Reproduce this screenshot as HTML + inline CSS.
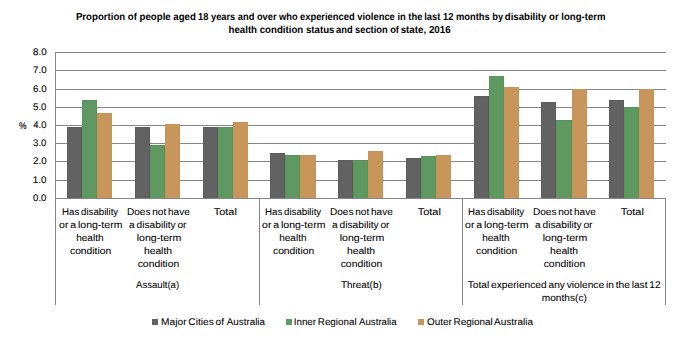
<!DOCTYPE html><html><head><meta charset="utf-8"><style>html,body{margin:0;padding:0;background:#fff;}svg{display:block;}text{font-family:"Liberation Sans",sans-serif;fill:#000;stroke:#000;word-spacing:-1px;text-rendering:geometricPrecision;}</style></head><body>
<svg width="681" height="340" viewBox="0 0 681 340" shape-rendering="crispEdges">
<rect x="0" y="0" width="681" height="340" fill="#fff"/>
<rect x="55" y="52" width="611" height="1" fill="#868686"/>
<rect x="55" y="70" width="611" height="1" fill="#868686"/>
<rect x="55" y="89" width="611" height="1" fill="#868686"/>
<rect x="55" y="107" width="611" height="1" fill="#868686"/>
<rect x="55" y="125" width="611" height="1" fill="#868686"/>
<rect x="55" y="143" width="611" height="1" fill="#868686"/>
<rect x="55" y="161" width="611" height="1" fill="#868686"/>
<rect x="55" y="180" width="611" height="1" fill="#868686"/>
<rect x="67" y="127" width="15" height="71" fill="#5b5b5b"/>
<rect x="68" y="128" width="13" height="70" fill="#626262"/>
<rect x="82" y="100" width="15" height="98" fill="#559657"/>
<rect x="83" y="101" width="13" height="97" fill="#5f9860"/>
<rect x="97" y="113" width="15" height="85" fill="#c79255"/>
<rect x="98" y="114" width="13" height="84" fill="#c8965b"/>
<rect x="135" y="127" width="15" height="71" fill="#5b5b5b"/>
<rect x="136" y="128" width="13" height="70" fill="#626262"/>
<rect x="150" y="145" width="15" height="53" fill="#559657"/>
<rect x="151" y="146" width="13" height="52" fill="#5f9860"/>
<rect x="165" y="124" width="15" height="74" fill="#c79255"/>
<rect x="166" y="125" width="13" height="73" fill="#c8965b"/>
<rect x="203" y="127" width="15" height="71" fill="#5b5b5b"/>
<rect x="204" y="128" width="13" height="70" fill="#626262"/>
<rect x="218" y="127" width="15" height="71" fill="#559657"/>
<rect x="219" y="128" width="13" height="70" fill="#5f9860"/>
<rect x="233" y="122" width="15" height="76" fill="#c79255"/>
<rect x="234" y="123" width="13" height="75" fill="#c8965b"/>
<rect x="270" y="153" width="15" height="45" fill="#5b5b5b"/>
<rect x="271" y="154" width="13" height="44" fill="#626262"/>
<rect x="285" y="155" width="15" height="43" fill="#559657"/>
<rect x="286" y="156" width="13" height="42" fill="#5f9860"/>
<rect x="300" y="155" width="16" height="43" fill="#c79255"/>
<rect x="301" y="156" width="14" height="42" fill="#c8965b"/>
<rect x="338" y="160" width="15" height="38" fill="#5b5b5b"/>
<rect x="339" y="161" width="13" height="37" fill="#626262"/>
<rect x="353" y="160" width="15" height="38" fill="#559657"/>
<rect x="354" y="161" width="13" height="37" fill="#5f9860"/>
<rect x="368" y="151" width="15" height="47" fill="#c79255"/>
<rect x="369" y="152" width="13" height="46" fill="#c8965b"/>
<rect x="406" y="158" width="15" height="40" fill="#5b5b5b"/>
<rect x="407" y="159" width="13" height="39" fill="#626262"/>
<rect x="421" y="156" width="15" height="42" fill="#559657"/>
<rect x="422" y="157" width="13" height="41" fill="#5f9860"/>
<rect x="436" y="155" width="15" height="43" fill="#c79255"/>
<rect x="437" y="156" width="13" height="42" fill="#c8965b"/>
<rect x="474" y="96" width="15" height="102" fill="#5b5b5b"/>
<rect x="475" y="97" width="13" height="101" fill="#626262"/>
<rect x="489" y="76" width="15" height="122" fill="#559657"/>
<rect x="490" y="77" width="13" height="121" fill="#5f9860"/>
<rect x="504" y="87" width="15" height="111" fill="#c79255"/>
<rect x="505" y="88" width="13" height="110" fill="#c8965b"/>
<rect x="541" y="102" width="15" height="96" fill="#5b5b5b"/>
<rect x="542" y="103" width="13" height="95" fill="#626262"/>
<rect x="556" y="120" width="16" height="78" fill="#559657"/>
<rect x="557" y="121" width="14" height="77" fill="#5f9860"/>
<rect x="572" y="89" width="15" height="109" fill="#c79255"/>
<rect x="573" y="90" width="13" height="108" fill="#c8965b"/>
<rect x="609" y="100" width="15" height="98" fill="#5b5b5b"/>
<rect x="610" y="101" width="13" height="97" fill="#626262"/>
<rect x="624" y="107" width="15" height="91" fill="#559657"/>
<rect x="625" y="108" width="13" height="90" fill="#5f9860"/>
<rect x="639" y="89" width="15" height="109" fill="#c79255"/>
<rect x="640" y="90" width="13" height="108" fill="#c8965b"/>
<rect x="55" y="198" width="611" height="1" fill="#868686"/>
<rect x="55" y="52" width="1" height="253" fill="#868686"/>
<rect x="259" y="198" width="1" height="107" fill="#868686"/>
<rect x="462" y="198" width="1" height="107" fill="#868686"/>
<rect x="665" y="198" width="1" height="107" fill="#868686"/>
<rect x="152" y="319" width="6" height="6" fill="#626262"/>
<rect x="286" y="319" width="6" height="6" fill="#5f9860"/>
<rect x="418" y="319" width="6" height="6" fill="#c8965b"/>
<text id="t0" x="75.95" y="20" font-size="10.2" font-weight="bold" stroke-width="0" style="word-spacing:0px" textLength="119.90" lengthAdjust="spacingAndGlyphs">Proportion of people aged</text>
<text id="t1" x="198.10" y="20" font-size="10.2" font-weight="bold" stroke-width="0" style="word-spacing:0px" textLength="99.55" lengthAdjust="spacingAndGlyphs">18 years and over who</text>
<text id="t2" x="300.00" y="20" font-size="10.2" font-weight="bold" stroke-width="0" style="word-spacing:0px" textLength="122.40" lengthAdjust="spacingAndGlyphs">experienced violence in the</text>
<text id="t3" x="424.25" y="20" font-size="10.2" font-weight="bold" stroke-width="0" style="word-spacing:0px" textLength="78.95" lengthAdjust="spacingAndGlyphs">last 12 months by</text>
<text id="t4" x="504.85" y="20" font-size="10.2" font-weight="bold" stroke-width="0" style="word-spacing:0px" textLength="100.65" lengthAdjust="spacingAndGlyphs">disability or long-term</text>
<text id="t5" x="228.50" y="33" font-size="10.2" font-weight="bold" stroke-width="0" style="word-spacing:0px" textLength="106.00" lengthAdjust="spacingAndGlyphs">health condition status</text>
<text id="t6" x="336.05" y="33" font-size="10.2" font-weight="bold" stroke-width="0" style="word-spacing:0px" textLength="62.90" lengthAdjust="spacingAndGlyphs">and section of</text>
<text id="t7" x="400.70" y="33" font-size="10.2" font-weight="bold" stroke-width="0" style="word-spacing:0px" textLength="49.95" lengthAdjust="spacingAndGlyphs">state, 2016</text>
<text id="t8" x="33.05" y="55" font-size="9.6" stroke-width="0.1" textLength="13.60" lengthAdjust="spacingAndGlyphs">8.0</text>
<text id="t9" x="33.05" y="73" font-size="9.6" stroke-width="0.1" textLength="13.60" lengthAdjust="spacingAndGlyphs">7.0</text>
<text id="t10" x="33.05" y="92" font-size="9.6" stroke-width="0.1" textLength="13.60" lengthAdjust="spacingAndGlyphs">6.0</text>
<text id="t11" x="33.05" y="110" font-size="9.6" stroke-width="0.1" textLength="13.35" lengthAdjust="spacingAndGlyphs">5.0</text>
<text id="t12" x="33.30" y="128" font-size="9.6" stroke-width="0.1" textLength="13.10" lengthAdjust="spacingAndGlyphs">4.0</text>
<text id="t13" x="33.05" y="146" font-size="9.6" stroke-width="0.1" textLength="13.35" lengthAdjust="spacingAndGlyphs">3.0</text>
<text id="t14" x="33.05" y="164" font-size="9.6" stroke-width="0.1" textLength="13.60" lengthAdjust="spacingAndGlyphs">2.0</text>
<text id="t15" x="32.80" y="183" font-size="9.6" stroke-width="0.1" textLength="13.60" lengthAdjust="spacingAndGlyphs">1.0</text>
<text id="t16" x="33.05" y="201" font-size="9.6" stroke-width="0.1" textLength="13.35" lengthAdjust="spacingAndGlyphs">0.0</text>
<text id="t17" x="19.10" y="129" font-size="9.6" stroke-width="0.15" textLength="7.60" lengthAdjust="spacingAndGlyphs">%</text>
<text id="t18" x="62.05" y="215" font-size="9.8" stroke-width="0.06" textLength="56.15" lengthAdjust="spacingAndGlyphs">Has disability</text>
<text id="t19" x="59.05" y="228" font-size="9.8" stroke-width="0.06" textLength="63.35" lengthAdjust="spacingAndGlyphs">or a long-term</text>
<text id="t20" x="76.25" y="241" font-size="9.8" stroke-width="0.06" textLength="27.25" lengthAdjust="spacingAndGlyphs">health</text>
<text id="t21" x="70.00" y="254" font-size="9.8" stroke-width="0.06" textLength="41.20" lengthAdjust="spacingAndGlyphs">condition</text>
<text id="t22" x="126.95" y="215" font-size="9.8" stroke-width="0.06" textLength="62.85" lengthAdjust="spacingAndGlyphs">Does not have</text>
<text id="t23" x="129.05" y="228" font-size="9.8" stroke-width="0.06" textLength="57.45" lengthAdjust="spacingAndGlyphs">a disability or</text>
<text id="t24" x="136.75" y="241" font-size="9.8" stroke-width="0.06" textLength="44.65" lengthAdjust="spacingAndGlyphs">long-term</text>
<text id="t25" x="143.90" y="254" font-size="9.8" stroke-width="0.06" textLength="28.15" lengthAdjust="spacingAndGlyphs">health</text>
<text id="t26" x="137.70" y="267" font-size="9.8" stroke-width="0.06" textLength="41.50" lengthAdjust="spacingAndGlyphs">condition</text>
<text id="t27" x="213.75" y="215" font-size="9.8" stroke-width="0.06" textLength="23.15" lengthAdjust="spacingAndGlyphs">Total</text>
<text id="t28" x="265.05" y="215" font-size="9.8" stroke-width="0.06" textLength="56.15" lengthAdjust="spacingAndGlyphs">Has disability</text>
<text id="t29" x="262.05" y="228" font-size="9.8" stroke-width="0.06" textLength="63.35" lengthAdjust="spacingAndGlyphs">or a long-term</text>
<text id="t30" x="279.25" y="241" font-size="9.8" stroke-width="0.06" textLength="27.25" lengthAdjust="spacingAndGlyphs">health</text>
<text id="t31" x="273.00" y="254" font-size="9.8" stroke-width="0.06" textLength="41.20" lengthAdjust="spacingAndGlyphs">condition</text>
<text id="t32" x="329.95" y="215" font-size="9.8" stroke-width="0.06" textLength="62.85" lengthAdjust="spacingAndGlyphs">Does not have</text>
<text id="t33" x="332.05" y="228" font-size="9.8" stroke-width="0.06" textLength="57.45" lengthAdjust="spacingAndGlyphs">a disability or</text>
<text id="t34" x="339.75" y="241" font-size="9.8" stroke-width="0.06" textLength="44.65" lengthAdjust="spacingAndGlyphs">long-term</text>
<text id="t35" x="346.90" y="254" font-size="9.8" stroke-width="0.06" textLength="28.15" lengthAdjust="spacingAndGlyphs">health</text>
<text id="t36" x="340.70" y="267" font-size="9.8" stroke-width="0.06" textLength="41.50" lengthAdjust="spacingAndGlyphs">condition</text>
<text id="t37" x="417.75" y="215" font-size="9.8" stroke-width="0.06" textLength="23.15" lengthAdjust="spacingAndGlyphs">Total</text>
<text id="t38" x="468.05" y="215" font-size="9.8" stroke-width="0.06" textLength="56.15" lengthAdjust="spacingAndGlyphs">Has disability</text>
<text id="t39" x="465.05" y="228" font-size="9.8" stroke-width="0.06" textLength="63.35" lengthAdjust="spacingAndGlyphs">or a long-term</text>
<text id="t40" x="482.25" y="241" font-size="9.8" stroke-width="0.06" textLength="27.25" lengthAdjust="spacingAndGlyphs">health</text>
<text id="t41" x="476.00" y="254" font-size="9.8" stroke-width="0.06" textLength="41.20" lengthAdjust="spacingAndGlyphs">condition</text>
<text id="t42" x="532.95" y="215" font-size="9.8" stroke-width="0.06" textLength="62.85" lengthAdjust="spacingAndGlyphs">Does not have</text>
<text id="t43" x="535.05" y="228" font-size="9.8" stroke-width="0.06" textLength="57.45" lengthAdjust="spacingAndGlyphs">a disability or</text>
<text id="t44" x="542.75" y="241" font-size="9.8" stroke-width="0.06" textLength="44.65" lengthAdjust="spacingAndGlyphs">long-term</text>
<text id="t45" x="549.90" y="254" font-size="9.8" stroke-width="0.06" textLength="28.15" lengthAdjust="spacingAndGlyphs">health</text>
<text id="t46" x="543.70" y="267" font-size="9.8" stroke-width="0.06" textLength="41.50" lengthAdjust="spacingAndGlyphs">condition</text>
<text id="t47" x="620.75" y="215" font-size="9.8" stroke-width="0.06" textLength="23.15" lengthAdjust="spacingAndGlyphs">Total</text>
<text id="t48" x="136.00" y="288" font-size="9.8" stroke-width="0.06" textLength="43.15" lengthAdjust="spacingAndGlyphs">Assault(a)</text>
<text id="t49" x="341.05" y="288" font-size="9.8" stroke-width="0.06" textLength="40.65" lengthAdjust="spacingAndGlyphs">Threat(b)</text>
<text id="t50" x="467.75" y="288" font-size="9.8" stroke-width="0.06" textLength="192.90" lengthAdjust="spacingAndGlyphs">Total experienced any violence in the last 12</text>
<text id="t51" x="541.75" y="301" font-size="9.8" stroke-width="0.06" textLength="45.10" lengthAdjust="spacingAndGlyphs">months(c)</text>
<text id="t52" x="161.10" y="325" font-size="9.8" stroke-width="0.06" textLength="62.90" lengthAdjust="spacingAndGlyphs">Major Cities of</text>
<text id="t53" x="226.85" y="325" font-size="9.8" stroke-width="0.06" textLength="38.10" lengthAdjust="spacingAndGlyphs">Australia</text>
<text id="t54" x="293.70" y="325" font-size="9.8" stroke-width="0.06" textLength="62.90" lengthAdjust="spacingAndGlyphs">Inner Regional</text>
<text id="t55" x="359.05" y="325" font-size="9.8" stroke-width="0.06" textLength="37.60" lengthAdjust="spacingAndGlyphs">Australia</text>
<text id="t56" x="427.05" y="325" font-size="9.8" stroke-width="0.06" textLength="65.75" lengthAdjust="spacingAndGlyphs">Outer Regional</text>
<text id="t57" x="494.05" y="325" font-size="9.8" stroke-width="0.06" textLength="38.90" lengthAdjust="spacingAndGlyphs">Australia</text>
</svg></body></html>
